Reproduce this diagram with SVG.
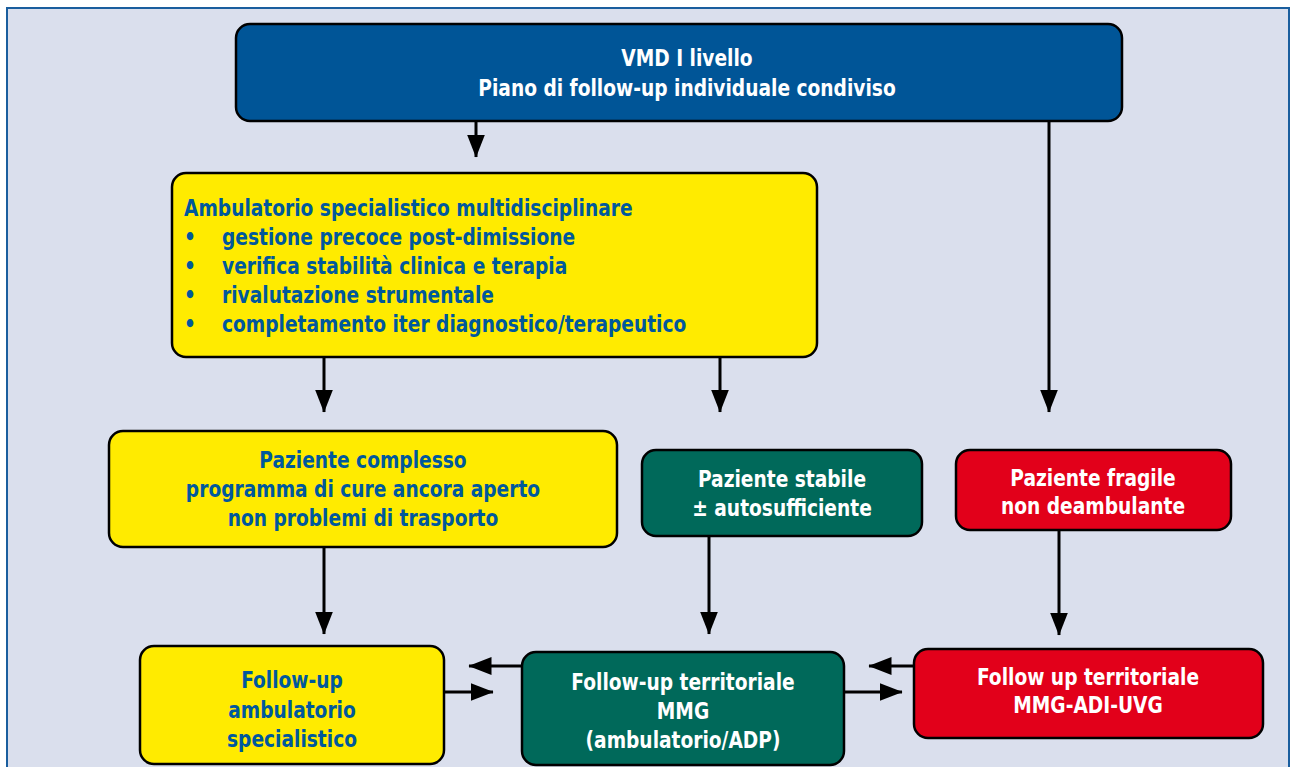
<svg xmlns="http://www.w3.org/2000/svg" width="1290" height="767" viewBox="0 0 1290 767">
<defs>
<style>
.box{stroke:#000;stroke-width:2.5}
.blue{fill:#005597}
.yel{fill:#FFEB00}
.grn{fill:#00695A}
.red{fill:#E2001A}
text{font-family:"DejaVu Sans Condensed","Liberation Sans Narrow","Liberation Sans",sans-serif;font-weight:bold;font-size:23px}
.tw{fill:#fff;text-anchor:middle}
.tb{fill:#00589C;text-anchor:middle}
.tl{fill:#00589C}
.c{stroke:#000;stroke-width:3;fill:none}
</style>
<marker id="ah" markerWidth="8" markerHeight="6" refX="7.5" refY="3" orient="auto" markerUnits="strokeWidth">
<path d="M0,0 L7.7,3 L0,6 Z" fill="#000"/>
</marker>
</defs>
<rect x="0" y="0" width="1290" height="767" fill="#fff"/>
<rect x="7" y="8" width="1282" height="800" fill="#DADFED" stroke="#1A5E9E" stroke-width="2"/>

<g id="connectors">
<line class="c" x1="476" y1="122" x2="476" y2="157" marker-end="url(#ah)"/>
<line class="c" x1="1049" y1="122" x2="1049" y2="412" marker-end="url(#ah)"/>
<line class="c" x1="324" y1="357" x2="324" y2="412" marker-end="url(#ah)"/>
<line class="c" x1="720" y1="357" x2="720" y2="412" marker-end="url(#ah)"/>
<line class="c" x1="324" y1="548" x2="324" y2="634" marker-end="url(#ah)"/>
<line class="c" x1="709" y1="537" x2="709" y2="634" marker-end="url(#ah)"/>
<line class="c" x1="1059" y1="531" x2="1059" y2="635" marker-end="url(#ah)"/>
<line class="c" x1="522" y1="666" x2="469" y2="666" marker-end="url(#ah)"/>
<line class="c" x1="444" y1="692" x2="493" y2="692" marker-end="url(#ah)"/>
<line class="c" x1="914" y1="666" x2="869" y2="666" marker-end="url(#ah)"/>
<line class="c" x1="844" y1="692" x2="902" y2="692" marker-end="url(#ah)"/>
</g>

<g id="vmd">
<rect class="box blue" x="236" y="24" width="886" height="97" rx="14"/>
<text class="tw" transform="translate(687,66) scale(0.9,1)">VMD I livello</text>
<text class="tw" transform="translate(687,96) scale(0.9,1)">Piano di follow-up individuale condiviso</text>
</g>

<g id="ambulatorio">
<rect class="box yel" x="172" y="173" width="645" height="184" rx="14"/>
<text class="tl" transform="translate(184,216) scale(0.9,1)">Ambulatorio specialistico multidisciplinare</text>
<text class="tl" transform="translate(184,245) scale(0.9,1)">•</text><text class="tl" transform="translate(222,245) scale(0.9,1)">gestione precoce post-dimissione</text>
<text class="tl" transform="translate(184,274) scale(0.9,1)">•</text><text class="tl" transform="translate(222,274) scale(0.9,1)">verifica stabilità clinica e terapia</text>
<text class="tl" transform="translate(184,303) scale(0.9,1)">•</text><text class="tl" transform="translate(222,303) scale(0.9,1)">rivalutazione strumentale</text>
<text class="tl" transform="translate(184,332) scale(0.9,1)">•</text><text class="tl" transform="translate(222,332) scale(0.9,1)">completamento iter diagnostico/terapeutico</text>
</g>

<g id="complesso">
<rect class="box yel" x="109" y="431" width="508" height="116" rx="14"/>
<text class="tb" transform="translate(363,468) scale(0.9,1)">Paziente complesso</text>
<text class="tb" transform="translate(363,497) scale(0.9,1)">programma di cure ancora aperto</text>
<text class="tb" transform="translate(363,526) scale(0.9,1)">non problemi di trasporto</text>
</g>

<g id="stabile">
<rect class="box grn" x="642" y="450" width="280" height="86" rx="14"/>
<text class="tw" transform="translate(782,487) scale(0.9,1)">Paziente stabile</text>
<text class="tw" transform="translate(782,516) scale(0.9,1)">± autosufficiente</text>
</g>

<g id="fragile">
<rect class="box red" x="956" y="450" width="275" height="80" rx="14"/>
<text class="tw" transform="translate(1093,486) scale(0.9,1)">Paziente fragile</text>
<text class="tw" transform="translate(1093,514) scale(0.9,1)">non deambulante</text>
</g>

<g id="fu-amb">
<rect class="box yel" x="140" y="646" width="304" height="118" rx="14"/>
<text class="tb" transform="translate(292,688) scale(0.9,1)">Follow-up</text>
<text class="tb" transform="translate(292,718) scale(0.9,1)">ambulatorio</text>
<text class="tb" transform="translate(292,747) scale(0.9,1)">specialistico</text>
</g>

<g id="fu-mmg">
<rect class="box grn" x="522" y="652" width="322" height="113" rx="14"/>
<text class="tw" transform="translate(683,690) scale(0.9,1)">Follow-up territoriale</text>
<text class="tw" transform="translate(683,719) scale(0.9,1)">MMG</text>
<text class="tw" transform="translate(683,748) scale(0.9,1)">(ambulatorio/ADP)</text>
</g>

<g id="fu-red">
<rect class="box red" x="914" y="649" width="349" height="89" rx="14"/>
<text class="tw" transform="translate(1088,685) scale(0.9,1)">Follow up territoriale</text>
<text class="tw" transform="translate(1088,713) scale(0.9,1)">MMG-ADI-UVG</text>
</g>
</svg>
